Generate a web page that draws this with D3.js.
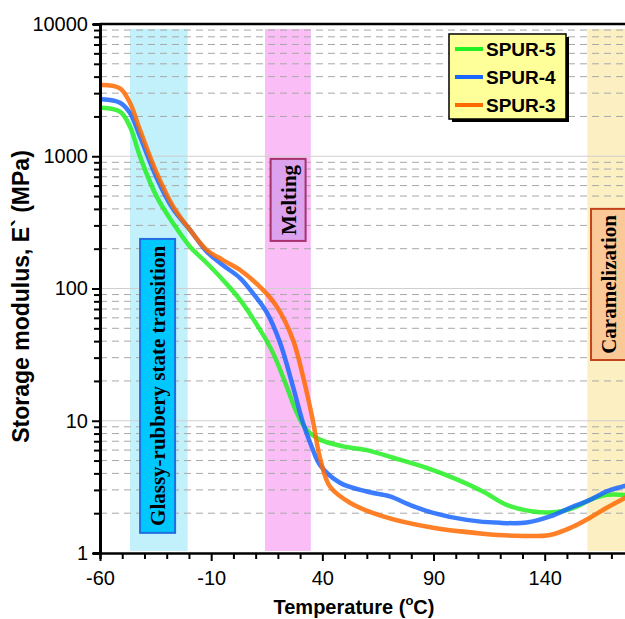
<!DOCTYPE html>
<html>
<head>
<meta charset="utf-8">
<script src="https://cdn.jsdelivr.net/npm/d3@7"></script>
<style>
  body { margin: 0; background: #fff; }
  text { font-family: Arial, "Liberation Sans", sans-serif; }
</style>
</head>
<body>
<div id="chart"></div>
<script>
// values
const spur5T = [-59.2, -51, -46.5, -42, -34.5, -27.2, -19.5, -12, -4.7, 3, 12, 17.8, 24, 28.5, 33, 38.9, 49.3, 59.9, 71.8, 86.9, 98.8, 112.2, 122.9, 134.7, 146.9, 154.4, 160.4, 167.9, 176.1];
const spur5E = [2330, 2173, 1674, 994, 495, 313, 207, 156, 116, 82, 48.6, 32.6, 18.1, 11.5, 8.5, 7.2, 6.4, 6.0, 5.25, 4.4, 3.7, 2.92, 2.31, 2.06, 2.06, 2.24, 2.52, 2.75, 2.75];

const spur4T = [-59.2, -51, -46.5, -42, -34.5, -27.2, -19.5, -12, -4.7, 3, 8.8, 15, 21, 26.8, 31.3, 35.2, 38.9, 47.9, 59.9, 70.4, 79.4, 89.8, 104.9, 119.9, 131.9, 142.4, 152.7, 160.4, 167.9, 176.1];
const spur4E = [2698, 2541, 2123, 1406, 685, 400, 277, 190, 150, 120, 92, 66, 38.8, 18.1, 9.64, 6.38, 4.64, 3.4, 2.92, 2.68, 2.31, 2.01, 1.78, 1.69, 1.7, 1.89, 2.24, 2.52, 2.92, 3.22];

const spur3T = [-59.2, -51, -46.5, -42, -34.5, -27.2, -19.5, -12, -4.7, 3, 13.3, 19.5, 26.8, 31.3, 35.5, 39, 43.4, 52.4, 67.3, 89.8, 112.2, 127.4, 142.4, 152.7, 160.4, 167.9, 176.1];
const spur3E = [3460, 3266, 2529, 1581, 748, 420, 277, 196, 164, 138, 97.6, 72.9, 40.9, 21.6, 10.5, 5.2, 3.18, 2.4, 1.89, 1.55, 1.4, 1.35, 1.37, 1.58, 1.85, 2.2, 2.61];

const seriesNames = ["SPUR-5", "SPUR-4", "SPUR-3"];
const seriesColors = ["#22f022", "#1a66ff", "#ff6a00"];

const xTicks = [-60, -10, 40, 90, 140];
const yTicks = [1, 10, 100, 1000, 10000];

// shaded temperature regions and their labels
const bandNames = ["Glassy-rubbery state transition", "Melting", "Caramelization"];
const bandFrom = [-46.5, 14.2, 159.2];
const bandTo = [-20.6, 34.8, 190];
const bandColors = ["#c2f0fb", "#fbbdf6", "#fcefc2"];
const labelT = [-34.1, 24.6, 168.7];
const labelTop = [237, 955, 400];
const labelBottom = [1.42, 229, 28.8];
const labelFill = ["#00c8ff", "#dca2ee", "#fbc898"];
const labelStroke = ["#1f6fe0", "#a8306c", "#c2441a"];

const width = 625, height = 619;
const margin = { left: 100, top: 24, bottom: 66 };

const svg = d3.select("#chart")
  .append("svg")
  .attr("width", width)
  .attr("height", height);

const x = d3.scaleLinear()
  .domain([-60, 190])
  .range([margin.left, margin.left + 250 * 2.2235]);

const y = d3.scaleLog()
  .domain([1, 10000])
  .range([height - margin.bottom, margin.top]);

const x0 = x.range()[0], x1 = x.range()[1];
const y0 = y.range()[0], y1 = y.range()[1];

// bands
svg.append("g")
  .selectAll("rect")
  .data(bandFrom)
  .join("rect")
  .attr("x", (d, i) => x(d))
  .attr("width", (d, i) => x(bandTo[i]) - x(d))
  .attr("y", y1 + 5)
  .attr("height", y0 - y1 - 7)
  .attr("fill", (d, i) => bandColors[i]);

// grid
const minor = [];
for (let dec = 1; dec < 10000; dec *= 10)
  for (let k = 2; k <= 9; k++) minor.push(k * dec);

svg.append("g")
  .selectAll("line")
  .data(minor)
  .join("line")
  .attr("x1", x0).attr("x2", x1)
  .attr("y1", d => y(d)).attr("y2", d => y(d))
  .attr("stroke", "#a8a8a8")
  .attr("stroke-width", 1)
  .attr("stroke-dasharray", "7,5");

svg.append("g")
  .selectAll("line")
  .data(yTicks.slice(1, 4))
  .join("line")
  .attr("x1", x0).attr("x2", x1)
  .attr("y1", d => y(d)).attr("y2", d => y(d))
  .attr("stroke", "#cfcfcf")
  .attr("stroke-width", 1);

// curves
const line = d3.line()
  .x(d => x(d[0]))
  .y(d => y(d[1]))
  .curve(d3.curveCatmullRom.alpha(0.5));

const series = [
  d3.zip(spur5T, spur5E),
  d3.zip(spur4T, spur4E),
  d3.zip(spur3T, spur3E)
];

svg.append("g")
  .selectAll("path")
  .data(series)
  .join("path")
  .attr("d", line)
  .attr("fill", "none")
  .attr("stroke", (d, i) => seriesColors[i])
  .attr("stroke-width", 4.5)
  .attr("stroke-opacity", 0.85)
  .attr("stroke-linecap", "round");

// band labels
const lab = svg.append("g")
  .selectAll("g")
  .data(bandNames)
  .join("g");

lab.append("rect")
  .attr("x", (d, i) => x(labelT[i]) - 17.5)
  .attr("width", 35)
  .attr("y", (d, i) => y(labelTop[i]))
  .attr("height", (d, i) => y(labelBottom[i]) - y(labelTop[i]))
  .attr("fill", (d, i) => labelFill[i])
  .attr("stroke", (d, i) => labelStroke[i])
  .attr("stroke-width", 2);

lab.append("text")
  .attr("transform", (d, i) =>
    `translate(${x(labelT[i]) + 7.5},${(y(labelTop[i]) + y(labelBottom[i])) / 2}) rotate(-90)`)
  .attr("text-anchor", "middle")
  .style("font-family", "'Liberation Serif', 'Times New Roman', serif")
  .style("font-weight", "bold")
  .style("font-size", "21px")
  .attr("fill", "#000")
  .text(d => d);

// axes
svg.append("line")
  .attr("x1", x0).attr("x2", x1)
  .attr("y1", y1).attr("y2", y1)
  .attr("stroke", "#000").attr("stroke-width", 2.5);

const xAxis = svg.append("g")
  .attr("transform", `translate(0,${y0})`)
  .call(d3.axisBottom(x)
    .tickValues(d3.range(-60, 181, 10))
    .tickSize(6)
    .tickFormat(d => xTicks.includes(d) ? d : ""));
xAxis.select(".domain").attr("stroke-width", 2.5);
xAxis.selectAll(".tick line").attr("stroke-width", 2)
  .attr("y2", d => xTicks.includes(d) ? 8 : 6);
xAxis.selectAll(".tick text")
  .attr("y", 18)
  .style("font-size", "20px")
  .style("font-family", "Arial, 'Liberation Sans', sans-serif")
  .attr("fill", "#000");

const yAxis = svg.append("g")
  .attr("transform", `translate(${x0},0)`)
  .call(d3.axisLeft(y)
    .tickValues(yTicks.concat(minor))
    .tickSize(7)
    .tickFormat(d => yTicks.includes(d) ? d : ""));
yAxis.select(".domain").attr("stroke-width", 3);
yAxis.selectAll(".tick line").attr("stroke-width", 2)
  .attr("x2", d => yTicks.includes(d) ? -8 : -6);
yAxis.selectAll(".tick text")
  .attr("x", -12)
  .style("font-size", "20px")
  .style("font-family", "Arial, 'Liberation Sans', sans-serif")
  .attr("fill", "#000");

// axis titles
svg.append("text")
  .attr("transform", `translate(29,${(y0 + y1) / 2 + 8}) rotate(-90)`)
  .attr("text-anchor", "middle")
  .style("font-size", "23px")
  .style("font-weight", "bold")
  .text("Storage modulus, E` (MPa)");

const xt = svg.append("text")
  .attr("x", 354)
  .attr("y", 614)
  .attr("text-anchor", "middle")
  .style("font-size", "20px")
  .style("font-weight", "bold");
xt.append("tspan").text("Temperature (");
xt.append("tspan").attr("dy", -9).style("font-size", "13px").text("o");
xt.append("tspan").attr("dy", 9).text("C)");

// legend
const legend = svg.append("g").attr("transform", "translate(449,34)");
legend.append("rect")
  .attr("x", 3).attr("y", 3)
  .attr("width", 117).attr("height", 85)
  .attr("fill", "#000");
legend.append("rect")
  .attr("width", 117).attr("height", 85)
  .attr("fill", "#ffff99")
  .attr("stroke", "#000")
  .attr("stroke-width", 1.5);

const item = legend.selectAll(".item")
  .data(seriesNames)
  .join("g")
  .attr("class", "item")
  .attr("transform", (d, i) => `translate(0,${15 + i * 28})`);
item.append("line")
  .attr("x1", 6).attr("x2", 34)
  .attr("stroke", (d, i) => seriesColors[i])
  .attr("stroke-width", 4);
item.append("text")
  .attr("x", 37)
  .attr("dy", "0.36em")
  .style("font-size", "19px")
  .style("font-weight", "bold")
  .text(d => d);
</script>
</body>
</html>
